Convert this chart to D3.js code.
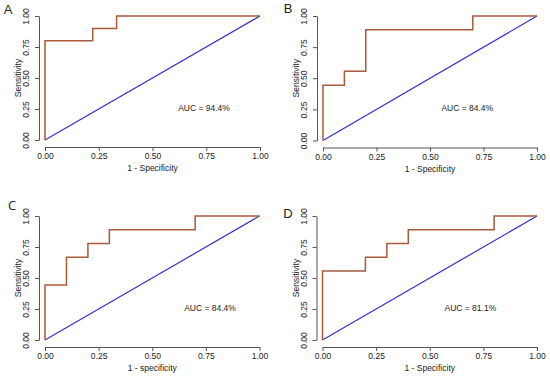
<!DOCTYPE html>
<html>
<head>
<meta charset="utf-8">
<script src="https://cdn.jsdelivr.net/npm/d3@7"></script>
<style>
  body { margin: 0; background: #fff; }
  svg { display: block; font-family: "Liberation Sans", Arial, sans-serif; }
</style>
</head>
<body>
<div id="chart"></div>
<script>
const width = 550;
const height = 376;

// data
const panelLetters = ['A', 'B', 'C', 'D'];
const xTitles = ['1 - Specificity', '1 - Specificity', '1 - specificity', '1 - Specificity'];
const aucLabels = ['AUC = 94.4%', 'AUC = 84.4%', 'AUC = 84.4%', 'AUC = 81.1%'];
const tickValues = [0, 0.25, 0.5, 0.75, 1];

// ROC corner points: 1 - specificity, sensitivity
const fprA = [0, 0, 0.222, 0.222, 0.333, 0.333, 1];
const tprA = [0, 0.8, 0.8, 0.9, 0.9, 1, 1];
const fprB = [0, 0, 0.1, 0.1, 0.2, 0.2, 0.7, 0.7, 1];
const tprB = [0, 0.444, 0.444, 0.556, 0.556, 0.889, 0.889, 1, 1];
const fprC = [0, 0, 0.1, 0.1, 0.2, 0.2, 0.3, 0.3, 0.7, 0.7, 1];
const tprC = [0, 0.444, 0.444, 0.667, 0.667, 0.778, 0.778, 0.889, 0.889, 1, 1];
const fprD = [0, 0, 0.2, 0.2, 0.3, 0.3, 0.4, 0.4, 0.8, 0.8, 1];
const tprD = [0, 0.556, 0.556, 0.667, 0.667, 0.778, 0.778, 0.889, 0.889, 1, 1];

const fprs = [fprA, fprB, fprC, fprD];
const tprs = [tprA, tprB, tprC, tprD];

// panel layout (pixel ranges of the 0..1 plot area, letter and label spots)
const panels = [
    {x0: 45, x1: 260, y0: 140, y1: 16, lx: 8, ly: 9, ax: 0.86, font: '"Liberation Sans", Arial, sans-serif'},
    {x0: 323, x1: 537, y0: 140.5, y1: 16, lx: 288, ly: 8, ax: 0.795, font: '"Liberation Sans", Arial, sans-serif'},
    {x0: 45, x1: 259.5, y0: 340, y1: 216, lx: 12, ly: 205, ax: 0.89, font: '"Open Sans", sans-serif'},
    {x0: 322.5, x1: 537, y0: 340, y1: 216, lx: 288, ly: 213, ax: 0.81, font: '"Liberation Sans", Arial, sans-serif'},
];

const rocColor = '#a85a3a';
const diagColor = '#3a2fcf';
const axisColor = '#555';
const fmt = d3.format('.2f');

const svg = d3.select('#chart').append('svg')
    .attr('width', width)
    .attr('height', height)
    .attr('viewBox', [0, 0, width, height]);

panels.forEach((p, i) => {
    const x = d3.scaleLinear().domain([0, 1]).range([p.x0, p.x1]);
    const y = d3.scaleLinear().domain([0, 1]).range([p.y0, p.y1]);
    const g = svg.append('g');

    const axisY = p.y0 + 7;   // R style: axes pushed off the data
    const axisX = p.x0 - 6;

    // x axis
    const xa = g.append('g')
        .attr('transform', `translate(0,${axisY})`)
        .call(d3.axisBottom(x).tickValues(tickValues).tickFormat(fmt).tickSize(4).tickSizeOuter(0));
    xa.select('.domain').attr('stroke', axisColor);
    xa.selectAll('.tick line').attr('stroke', axisColor);
    xa.selectAll('.tick text')
        .attr('fill', '#222')
        .attr('font-size', 8.5)
        .attr('font-family', '"Liberation Sans", Arial, sans-serif')
        .attr('dy', '0.85em')
        .attr('y', 5);

    // y axis
    const ya = g.append('g')
        .attr('transform', `translate(${axisX},0)`)
        .call(d3.axisLeft(y).tickValues(tickValues).tickFormat(fmt).tickSize(4).tickSizeOuter(0));
    ya.select('.domain').attr('stroke', axisColor);
    ya.selectAll('.tick line').attr('stroke', axisColor);
    ya.selectAll('.tick text')
        .attr('fill', '#222')
        .attr('font-size', 8.5)
        .attr('font-family', '"Liberation Sans", Arial, sans-serif')
        .attr('x', null)
        .attr('dy', null)
        .attr('text-anchor', 'middle')
        .attr('transform', 'translate(-10,0) rotate(-90)');

    // axis titles
    g.append('text')
        .attr('x', (p.x0 + p.x1) / 2)
        .attr('y', axisY + 24)
        .attr('text-anchor', 'middle')
        .attr('font-size', 8.5)
        .attr('fill', '#222')
        .text(xTitles[i]);

    g.append('text')
        .attr('transform', `translate(${axisX - 18},${(p.y0 + p.y1) / 2}) rotate(-90)`)
        .attr('text-anchor', 'middle')
        .attr('font-size', 8.5)
        .attr('fill', '#222')
        .text('Sensitivity');

    // panel letter
    g.append('text')
        .attr('x', p.lx)
        .attr('y', p.ly)
        .attr('text-anchor', 'middle')
        .attr('dominant-baseline', 'central')
        .attr('font-size', 13)
        .attr('font-family', p.font)
        .attr('fill', '#222')
        .text(panelLetters[i]);

    // chance line
    g.append('line')
        .attr('x1', x(0)).attr('y1', y(0))
        .attr('x2', x(1)).attr('y2', y(1))
        .attr('stroke', diagColor)
        .attr('stroke-width', 1.2);

    // ROC curve
    const pts = fprs[i].map((f, k) => [f, tprs[i][k]]);
    g.append('path')
        .datum(pts)
        .attr('fill', 'none')
        .attr('stroke', rocColor)
        .attr('stroke-width', 1.5)
        .attr('d', d3.line().x(d => x(d[0])).y(d => y(d[1])));

    // AUC label
    g.append('text')
        .attr('x', x(p.ax))
        .attr('y', y(0.25) + 2)
        .attr('text-anchor', 'end')
        .attr('font-size', 8.5)
        .attr('fill', '#222')
        .text(aucLabels[i]);
});
</script>
</body>
</html>
